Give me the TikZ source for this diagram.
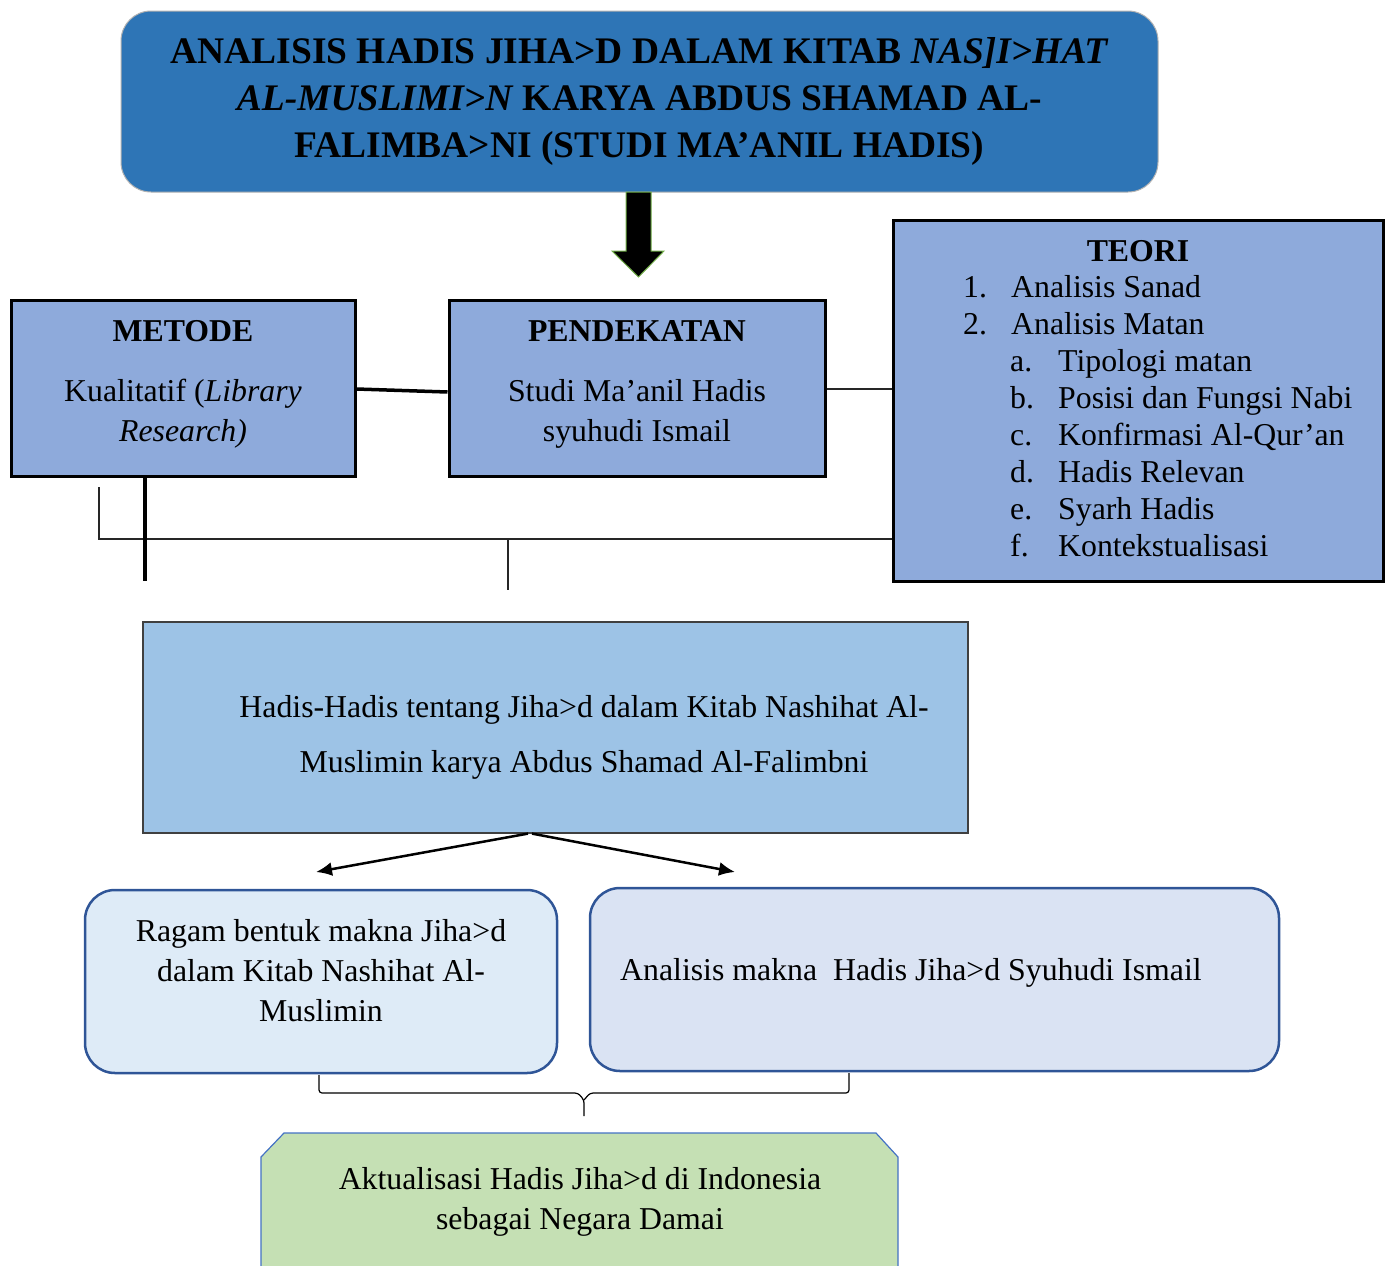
\documentclass[tikz,border=0pt]{standalone}
\usepackage{fontspec}
\setmainfont{Liberation Serif}
\usetikzlibrary{arrows.meta}
\definecolor{titleblue}{HTML}{2E75B6}
\definecolor{boxblue}{HTML}{8EAADB}
\definecolor{midblue}{HTML}{9DC3E6}
\definecolor{lightA}{HTML}{DEEBF7}
\definecolor{lightB}{HTML}{DAE3F3}
\definecolor{darkblue}{HTML}{2F5597}
\definecolor{greenfill}{HTML}{C5E0B4}
\definecolor{greenline}{HTML}{70AD47}
\definecolor{edgeblue}{HTML}{4472C4}
\tikzset{
  body/.style={font=\fontsize{31.8}{40}\selectfont},
  sqbox/.style={draw=black, line width=3pt, fill=boxblue, inner sep=0pt, body, align=center},
  roundbox/.style={draw=darkblue, line width=2.5pt, rounded corners=30pt, inner sep=0pt, body},
  thinline/.style={line width=1.2pt, draw=black!85},
  thickline/.style={line width=3.5pt, draw=black},
  arr/.style={line width=2.5pt, -{Latex[length=16pt,width=14pt]}},
}
\begin{document}
\begin{tikzpicture}[x=1pt,y=-1pt]
\useasboundingbox (0,0) rectangle (1392,1266);

% title
\node[draw=black!30, line width=1pt, fill=titleblue, rounded corners=30pt,
      minimum width=1037pt, minimum height=181pt, inner sep=0pt, align=center,
      font=\fontsize{37.5}{47}\selectfont\bfseries] (title) at (639.5,101.5)
  {ANALISIS HADIS JIHA>D DALAM KITAB \textit{NAS]I>HAT}\\
   \textit{AL-MUSLIMI>N} KARYA ABDUS SHAMAD AL-\\
   FALIMBA>NI (STUDI MA’ANIL HADIS)};

% big arrow
\draw[fill=black, draw=greenline, line width=1pt]
  (626,192) -- (651,192) -- (651,251) -- (664,251) -- (638.5,277) -- (612,251) -- (626,251) -- cycle;

% METODE
\node[sqbox, minimum width=344pt, minimum height=176pt] (metode) at (183,388) {};
\node[body, align=center, inner sep=0pt, anchor=base] (metodeT) at (183,341) {\textbf{METODE}};
\node[body, align=center, inner sep=0pt, anchor=base] (metodeB) at (183,441)
  {Kualitatif (\textit{Library}\\ \textit{Research)}};

% PENDEKATAN
\node[sqbox, minimum width=376pt, minimum height=176pt] (pend) at (637,388) {};
\node[body, align=center, inner sep=0pt, anchor=base] (pendT) at (637,341) {\textbf{PENDEKATAN}};
\node[body, align=center, inner sep=0pt, anchor=base] (pendB) at (637,441)
  {Studi Ma’anil Hadis\\ syuhudi Ismail};

% TEORI
\node[sqbox, minimum width=490pt, minimum height=361pt] (teori) at (1138,400.5) {};
\node[body, inner sep=0pt, anchor=base] (teoriT) at (1138,261) {\textbf{TEORI}};
\node[inner sep=0pt, anchor=base west, align=left,
      font=\fontsize{31.8}{37}\selectfont] (teoriL) at (963,556)
  {\makebox[48pt][l]{1.}Analisis Sanad\\
   \makebox[48pt][l]{2.}Analisis Matan\\
   \hspace*{47pt}\makebox[48pt][l]{a.}Tipologi matan\\
   \hspace*{47pt}\makebox[48pt][l]{b.}Posisi dan Fungsi Nabi\\
   \hspace*{47pt}\makebox[48pt][l]{c.}Konfirmasi Al-Qur’an\\
   \hspace*{47pt}\makebox[48pt][l]{d.}Hadis Relevan\\
   \hspace*{47pt}\makebox[48pt][l]{e.}Syarh Hadis\\
   \hspace*{47pt}\makebox[48pt][l]{f.}Kontekstualisasi};

% connectors between top boxes
\draw[thickline] (metode.east |- 0,389) -- (pend.west |- 0,392);
\draw[thinline] (pend.east |- 0,389) -- (teori.west |- 0,389);

% lines below
\coordinate (c1) at (99,487);
\coordinate (c2) at (99,539);
\coordinate (c3) at (508,539);
\coordinate (c4) at (508,590);
\coordinate (c5) at (145,581);
\draw[thinline] (c1) -- (c2) -- (teori.west |- c2);
\draw[thinline] (c3) -- (c4);
\draw[thickline] (metode.south -| c5) -- (c5);

% middle box
\node[draw=black!75, line width=1.2pt, fill=midblue, minimum width=825pt, minimum height=211pt, inner sep=0pt] (mid) at (555.5,727.5) {};
\node[inner sep=0pt, align=center, font=\fontsize{31.8}{55}\selectfont, anchor=base] (midT) at (584,772)
  {Hadis-Hadis tentang Jiha>d dalam Kitab Nashihat Al-\\ Muslimin karya Abdus Shamad Al-Falimbni};

% lower boxes
\node[roundbox, fill=lightA, minimum width=472pt, minimum height=183pt] (ragam) at (321,981.5) {};
\node[body, align=center, inner sep=0pt, anchor=base] (ragamT) at (321,1021)
  {Ragam bentuk makna Jiha>d\\ dalam Kitab Nashihat Al-\\ Muslimin};
\node[roundbox, fill=lightB, minimum width=689pt, minimum height=183pt] (anal) at (934.5,979.5) {};
\node[body, inner sep=0pt, anchor=base west] (analT) at (620,980)
  {Analisis makna\ \ Hadis Jiha>d Syuhudi Ismail};

% arrows from middle box
\coordinate (a1) at (316,872);
\coordinate (a2) at (735,872);
\draw[arr] (mid.south -| 528,0) -- (a1);
\draw[arr] (mid.south -| 532,0) -- (a2);

% brace
\draw[line width=1.2pt, rounded corners=3pt]
  (319,1075) -- (319,1093) -- (578,1093) -- (584,1100) -- (584,1116);
\draw[line width=1.2pt, rounded corners=3pt]
  (849,1073) -- (849,1093) -- (590,1093) -- (584,1100);

% bottom box (snipped corners)
\draw[draw=edgeblue, line width=1.2pt, fill=greenfill]
  (261,1280) -- (261,1157) -- (284,1133) -- (876,1133) -- (898,1157) -- (898,1280);
\node[body, align=center, inner sep=0pt, anchor=base] (aktual) at (580,1229)
  {Aktualisasi Hadis Jiha>d di Indonesia\\ sebagai Negara Damai};
\end{tikzpicture}
\end{document}
